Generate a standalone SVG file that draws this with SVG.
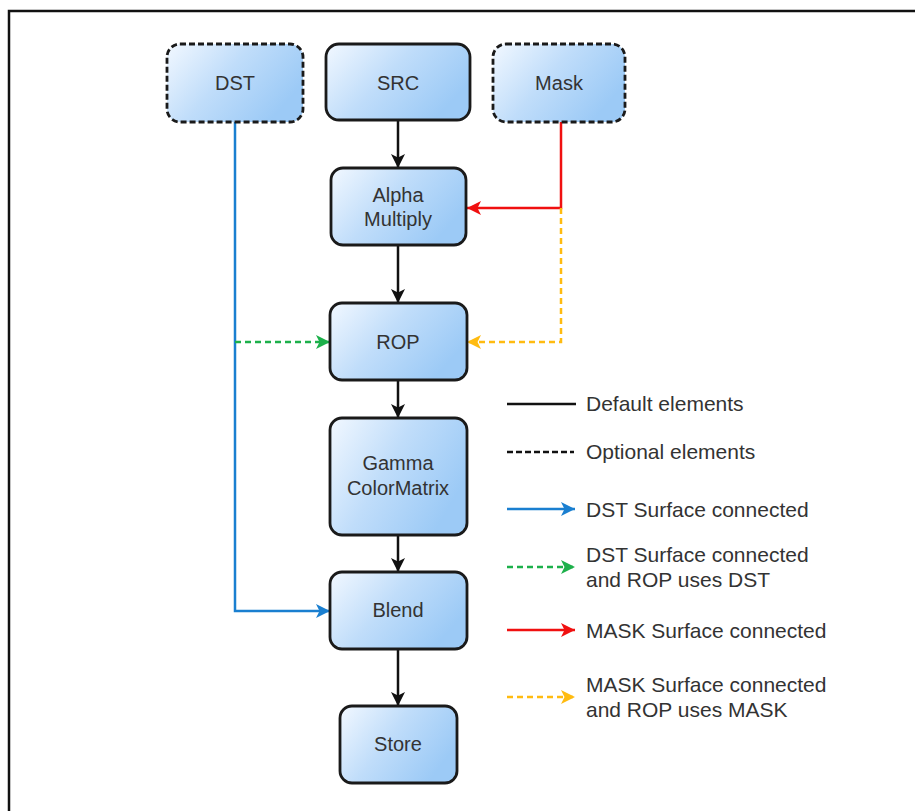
<svg xmlns="http://www.w3.org/2000/svg" width="915" height="811" viewBox="0 0 915 811">
<defs>
<linearGradient id="g" x1="0" y1="0" x2="1" y2="0.5">
<stop offset="0" stop-color="#f2f8ff"/>
<stop offset="0.5" stop-color="#c0ddfa"/>
<stop offset="1" stop-color="#9ccaf6"/>
</linearGradient>
<marker id="ak" viewBox="0 0 12 12" refX="12" refY="6" markerWidth="14" markerHeight="14" markerUnits="userSpaceOnUse" orient="auto"><path d="M0,0 L12,6 L0,12 L3,6 Z" fill="#111"/></marker>
<marker id="ab" viewBox="0 0 12 12" refX="12" refY="6" markerWidth="14" markerHeight="14" markerUnits="userSpaceOnUse" orient="auto"><path d="M0,0 L12,6 L0,12 L3,6 Z" fill="#1a7fd0"/></marker>
<marker id="agn" viewBox="0 0 12 12" refX="12" refY="6" markerWidth="14" markerHeight="14" markerUnits="userSpaceOnUse" orient="auto"><path d="M0,0 L12,6 L0,12 L3,6 Z" fill="#1cb04a"/></marker>
<marker id="ar" viewBox="0 0 12 12" refX="12" refY="6" markerWidth="14" markerHeight="14" markerUnits="userSpaceOnUse" orient="auto"><path d="M0,0 L12,6 L0,12 L3,6 Z" fill="#f01010"/></marker>
<marker id="ay" viewBox="0 0 12 12" refX="12" refY="6" markerWidth="14" markerHeight="14" markerUnits="userSpaceOnUse" orient="auto"><path d="M0,0 L12,6 L0,12 L3,6 Z" fill="#ffbb10"/></marker>
</defs>
<style>
.node{fill:url(#g);stroke:#1a1a1a;stroke-width:2.8}
.opt{stroke-dasharray:6 3}
text{font-family:"Liberation Sans",Arial,sans-serif;fill:#333}
.nt{font-size:20px;text-anchor:middle}
.lt{font-size:21px}
.k{stroke:#111;stroke-width:2.5;fill:none}
.b{stroke:#1a7fd0;stroke-width:2.5;fill:none}
.gn{stroke:#1cb04a;stroke-width:2.5;fill:none;stroke-dasharray:6 4}
.r{stroke:#f01010;stroke-width:2.5;fill:none}
.y{stroke:#ffbb10;stroke-width:2.5;fill:none;stroke-dasharray:6 4}
.kd{stroke:#111;stroke-width:2.5;fill:none;stroke-dasharray:6 3}
</style>
<rect x="9" y="11" width="920" height="820" fill="#fff" stroke="#111" stroke-width="2.5"/>
<g id="connectors">
<line class="k" x1="398" y1="120" x2="398" y2="168" marker-end="url(#ak)"/>
<line class="k" x1="398" y1="245" x2="398" y2="303" marker-end="url(#ak)"/>
<line class="k" x1="398" y1="380" x2="398" y2="418" marker-end="url(#ak)"/>
<line class="k" x1="398" y1="535" x2="398" y2="572" marker-end="url(#ak)"/>
<line class="k" x1="398" y1="649" x2="398" y2="706" marker-end="url(#ak)"/>
<polyline class="b" points="235,122 235,611 330,611" marker-end="url(#ab)"/>
<line class="gn" x1="235" y1="342" x2="330" y2="342" marker-end="url(#agn)"/>
<polyline class="r" points="561,122 561,208 467,208" marker-end="url(#ar)"/>
<polyline class="y" points="561,208 561,342 467,342" marker-end="url(#ay)"/>
</g>
<g id="node-dst"><rect class="node opt" x="167" y="44" width="136" height="78" rx="13"/><text class="nt" x="235" y="90">DST</text></g>
<g id="node-src"><rect class="node" x="326" y="44" width="144" height="76" rx="13"/><text class="nt" x="398" y="90">SRC</text></g>
<g id="node-mask"><rect class="node opt" x="493" y="44" width="132" height="78" rx="13"/><text class="nt" x="559" y="90">Mask</text></g>
<g id="node-alpha"><rect class="node" x="331" y="168" width="135" height="77" rx="12"/><text class="nt" x="398" y="202">Alpha</text><text class="nt" x="398" y="226">Multiply</text></g>
<g id="node-rop"><rect class="node" x="330" y="303" width="137" height="77" rx="12"/><text class="nt" x="398" y="349">ROP</text></g>
<g id="node-gamma"><rect class="node" x="330" y="418" width="137" height="117" rx="12"/><text class="nt" x="398" y="470">Gamma</text><text class="nt" x="398" y="495">ColorMatrix</text></g>
<g id="node-blend"><rect class="node" x="330" y="572" width="137" height="77" rx="12"/><text class="nt" x="398" y="617">Blend</text></g>
<g id="node-store"><rect class="node" x="340" y="706" width="117" height="77" rx="12"/><text class="nt" x="398" y="751">Store</text></g>
<g id="legend">
<line class="k" x1="507" y1="404" x2="576" y2="404"/>
<text class="lt" x="586" y="411">Default elements</text>
<line class="kd" x1="507" y1="452" x2="574" y2="452"/>
<text class="lt" x="586" y="459">Optional elements</text>
<line class="b" x1="507" y1="509" x2="575" y2="509" marker-end="url(#ab)"/>
<text class="lt" x="586" y="517">DST Surface connected</text>
<line class="gn" x1="507" y1="567" x2="575" y2="567" marker-end="url(#agn)"/>
<text class="lt" x="586" y="562">DST Surface connected</text>
<text class="lt" x="586" y="587">and ROP uses DST</text>
<line class="r" x1="507" y1="630" x2="575" y2="630" marker-end="url(#ar)"/>
<text class="lt" x="586" y="638">MASK Surface connected</text>
<line class="y" x1="507" y1="697" x2="575" y2="697" marker-end="url(#ay)"/>
<text class="lt" x="586" y="692">MASK Surface connected</text>
<text class="lt" x="586" y="717">and ROP uses MASK</text>
</g>
</svg>
